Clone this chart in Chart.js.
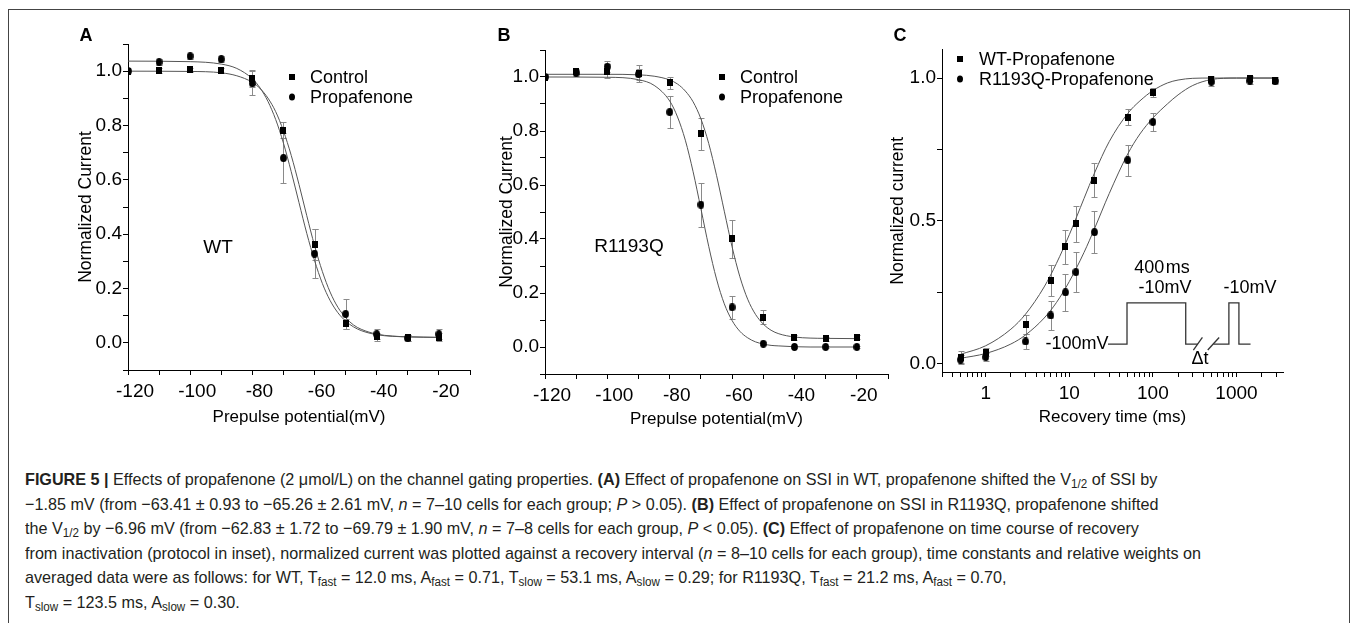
<!DOCTYPE html>
<html>
<head>
<meta charset="utf-8">
<script src="https://cdn.jsdelivr.net/npm/chart.js@4.4.1/dist/chart.umd.min.js"></script>
<style>
  html, body { margin: 0; padding: 0; background: #fff; }
  body { width: 1357px; height: 623px; position: relative; overflow: hidden;
         font-family: 'Liberation Sans', Arial, sans-serif; color: #000; }
  canvas { position: absolute; top: 0; }
  #frame { position: absolute; left: 8px; top: 9px; width: 1340px; height: 700px;
           border: 1px solid #444; border-bottom: none; }
  .c { position: absolute; transform: translate(-50%, -50%); white-space: nowrap; font-size: 18px; line-height: 1; }
  .l { position: absolute; transform: translate(0, -50%); white-space: nowrap; font-size: 18px; line-height: 1; }
  .panel { font-weight: bold; font-size: 18px; }
  .sq { position: absolute; width: 6px; height: 6px; background: #000; transform: translate(-50%, -50%); }
  .dot { position: absolute; width: 6px; height: 7px; border-radius: 50%; background: #000; transform: translate(-50%, -50%); }
  #caption { position: absolute; left: 25px; top: 468px; font-size: 17px; line-height: 24.5px;
             color: #231f20; white-space: nowrap; transform-origin: left top; }
  #caption sub { font-size: 0.72em; vertical-align: -0.28em; line-height: 0; }
</style>
</head>
<body>
<div id="frame"></div>
<canvas id="chartA" width="480" height="440" style="left:0px"></canvas>
<canvas id="chartB" width="480" height="440" style="left:420px"></canvas>
<canvas id="chartC" width="517" height="440" style="left:840px"></canvas>

<!-- panel letters -->
<div class="c panel" style="left:86px; top:35px">A</div>
<div class="c panel" style="left:504px; top:35px">B</div>
<div class="c panel" style="left:900px; top:35px">C</div>

<!-- legends -->
<div class="sq" style="left:292px; top:77px"></div><div class="l" style="left:310px; top:77px">Control</div>
<div class="dot" style="left:292px; top:97px"></div><div class="l" style="left:310px; top:97px">Propafenone</div>
<div class="sq" style="left:722px; top:77px"></div><div class="l" style="left:740px; top:77px">Control</div>
<div class="dot" style="left:722px; top:97px"></div><div class="l" style="left:740px; top:97px">Propafenone</div>
<div class="sq" style="left:960px; top:59px"></div><div class="l" style="left:979px; top:59px">WT-Propafenone</div>
<div class="dot" style="left:960px; top:79px"></div><div class="l" style="left:979px; top:79px">R1193Q-Propafenone</div>

<div class="c" style="left:218px; top:246px; font-size:19px">WT</div>
<div class="c" style="left:629px; top:245px; font-size:19px">R1193Q</div>

<!-- protocol inset labels -->
<div class="c" style="left:1162px; top:267px">400&#8202;ms</div>
<div class="c" style="left:1165px; top:287px">-10mV</div>
<div class="c" style="left:1250px; top:287px">-10mV</div>
<div class="c" style="left:1077px; top:343px">-100mV</div>
<div class="c" style="left:1200px; top:358px">&Delta;t</div>

<div id="caption">
  <div><span id="capLine1"><b>FIGURE 5 |</b> Effects of propafenone (2 &mu;mol/L) on the channel gating properties. <b>(A)</b> Effect of propafenone on SSI in WT, propafenone shifted the V<sub>1/2</sub> of SSI by</span></div>
  <div><span>&minus;1.85 mV (from &minus;63.41 &plusmn; 0.93 to &minus;65.26 &plusmn; 2.61 mV, <i>n</i> = 7&ndash;10 cells for each group; <i>P</i> &gt; 0.05). <b>(B)</b> Effect of propafenone on SSI in R1193Q, propafenone shifted</span></div>
  <div><span>the V<sub>1/2</sub> by &minus;6.96 mV (from &minus;62.83 &plusmn; 1.72 to &minus;69.79 &plusmn; 1.90 mV, <i>n</i> = 7&ndash;8 cells for each group, <i>P</i> &lt; 0.05). <b>(C)</b> Effect of propafenone on time course of recovery</span></div>
  <div><span id="capLine4">from inactivation (protocol in inset), normalized current was plotted against a recovery interval (<i>n</i> = 8&ndash;10 cells for each group), time constants and relative weights on</span></div>
  <div><span>averaged data were as follows: for WT, T<sub>fast</sub> = 12.0 ms, A<sub>fast</sub> = 0.71, T<sub>slow</sub> = 53.1 ms, A<sub>slow</sub> = 0.29; for R1193Q, T<sub>fast</sub> = 21.2 ms, A<sub>fast</sub> = 0.70,</span></div>
  <div><span>T<sub>slow</sub> = 123.5 ms, A<sub>slow</sub> = 0.30.</span></div>
</div>

<script>
// ---- data ----
// A / B: steady-state inactivation, prepulse potential (mV)
const ssiVoltages = [-120, -110, -100, -90, -80, -70, -60, -50, -40, -30, -20];

const wtControl      = [1.0, 1.003, 1.005, 1.003, 0.973, 0.783, 0.362, 0.070, 0.023, 0.018, 0.021];
const wtControlErr   = [0, 0.008, 0.008, 0.008, 0.030, 0.030, 0.056, 0.018, 0.015, 0.010, 0.016];
const wtPropa        = [1.0, 1.033, 1.055, 1.044, 0.955, 0.680, 0.328, 0.106, 0.032, 0.017, 0.032];
const wtPropaErr     = [0, 0.010, 0.010, 0.010, 0.044, 0.092, 0.090, 0.055, 0.018, 0.010, 0.018];

const r1193qControl    = [1.0, 1.020, 1.022, 1.012, 0.979, 0.790, 0.401, 0.111, 0.035, 0.030, 0.036];
const r1193qControlErr = [0, 0.010, 0.025, 0.032, 0.022, 0.060, 0.071, 0.025, 0.008, 0.006, 0.008];
const r1193qPropa      = [1.0, 1.015, 1.038, 1.010, 0.870, 0.527, 0.147, 0.012, 0.0, 0.0, 0.0];
const r1193qPropaErr   = [0, 0.012, 0.020, 0.020, 0.060, 0.082, 0.043, 0.006, 0.004, 0.004, 0.004];

// fitted Boltzmann curves, traced at these voltages
const fitVoltages = [-120, -100, -90, -85, -80, -77.5, -75, -72.5, -70, -67.5, -65, -62.5,
                     -60, -57.5, -55, -52.5, -50, -47.5, -45, -40, -35, -30, -20];
const wtControlFit = [1.0, 0.999, 0.994, 0.983, 0.959, 0.936, 0.901, 0.851, 0.780, 0.690, 0.583, 0.468,
                      0.358, 0.263, 0.187, 0.131, 0.093, 0.066, 0.050, 0.032, 0.025, 0.022, 0.020];
const wtPropaFit   = [1.037, 1.035, 1.026, 1.010, 0.972, 0.938, 0.889, 0.822, 0.735, 0.630, 0.516, 0.403,
                      0.303, 0.219, 0.156, 0.111, 0.080, 0.059, 0.045, 0.030, 0.024, 0.022, 0.020];
const r1193qControlFit = [1.010, 1.010, 1.008, 1.003, 0.989, 0.974, 0.948, 0.908, 0.845, 0.754, 0.636, 0.503,
                          0.371, 0.260, 0.177, 0.121, 0.085, 0.062, 0.049, 0.037, 0.033, 0.032, 0.031];
const r1193qPropaFit   = [1.0, 0.999, 0.990, 0.969, 0.911, 0.852, 0.766, 0.649, 0.512, 0.373, 0.252, 0.160,
                          0.098, 0.058, 0.034, 0.019, 0.011, 0.006, 0.004, 0.001, 0.0, 0.0, 0.0];

// C: recovery from inactivation, recovery time (ms)
const recoveryTimes     = [0.5, 1, 3, 6, 9, 12, 20, 50, 100, 500, 1450, 2900];
const wtRecovery        = [0.022, 0.040, 0.136, 0.290, 0.408, 0.490, 0.642, 0.862, 0.950, 0.996, 0.998, 0.993];
const wtRecoveryErr     = [0.020, 0.015, 0.032, 0.055, 0.060, 0.063, 0.060, 0.028, 0.015, 0.012, 0.010, 0.010];
const r1193qRecovery    = [0.013, 0.022, 0.077, 0.168, 0.249, 0.320, 0.460, 0.712, 0.846, 0.987, 0.990, 0.990];
const r1193qRecoveryErr = [0.015, 0.015, 0.026, 0.050, 0.066, 0.070, 0.074, 0.055, 0.033, 0.015, 0.012, 0.012];

const recoveryFitTimes = [0.5, 1, 2, 3, 5, 7, 10, 15, 20, 30, 50, 70, 100, 150, 200, 300, 500, 700, 1000, 2900];
const wtRecoveryFit     = [0.032, 0.062, 0.120, 0.173, 0.268, 0.350, 0.451, 0.578, 0.667, 0.777, 0.876, 0.920,
                           0.956, 0.983, 0.993, 0.999, 1.0, 1.0, 1.0, 1.0];
const r1193qRecoveryFit = [0.018, 0.035, 0.068, 0.100, 0.159, 0.213, 0.287, 0.389, 0.472, 0.595, 0.734, 0.804,
                           0.860, 0.910, 0.941, 0.974, 0.995, 0.999, 1.0, 1.0];

// voltage protocol inset in C, in the panel's own units (ms, normalized)
const protocolX1 = [29, 49, 49, 247, 247, 345];
const protocolX2 = [530, 811, 811, 1069, 1069, 1472];
const protocolY  = [0.068, 0.068, 0.212, 0.212, 0.068, 0.068];
const breakX1 = [305, 391];
const breakX2 = [453, 620];
const breakY  = [0.047, 0.091];

// tick labels
const ssiTickLabels = [-120, -100, -80, -60, -40, -20];
const recoveryTickLabels = [1, 10, 100, 1000];

// ---- helpers ----
const FONT = "'Liberation Sans', Arial, sans-serif";
const TICK_SIZE = 19;
const pts = (xs, ys) => xs.map((x, i) => ({ x: x, y: ys[i] }));

function markerCanvas(shape) {
  const c = document.createElement('canvas');
  const g = c.getContext('2d');
  if (shape === 'circle') {
    c.width = 7; c.height = 8;
    g.fillStyle = '#000';
    g.beginPath();
    g.ellipse(3.5, 4, 3.4, 4, 0, 0, Math.PI * 2);
    g.fill();
  } else {
    c.width = 6; c.height = 7;
    g.fillStyle = '#000';
    g.fillRect(0, 0, 6, 7);
  }
  return c;
}
const squareMark = markerCanvas('square');
const circleMark = markerCanvas('circle');

const markers = (xs, ys, errs, mark) => ({
  data: pts(xs, ys), errors: errs, showLine: false,
  pointStyle: mark, pointRadius: 4, borderWidth: 0,
});
const curve = (xs, ys) => ({
  data: pts(xs, ys), borderColor: '#555', borderWidth: 1,
  pointRadius: 0, cubicInterpolationMode: 'monotone', fill: false,
});
const protocolLine = (xs, ys) => ({
  data: pts(xs, ys), borderColor: '#333', borderWidth: 1.3, pointRadius: 0, tension: 0, fill: false,
});

// error bars drawn behind the markers
const errorBars = {
  id: 'errorBars',
  beforeDatasetsDraw(chart) {
    const { ctx } = chart;
    const xs = chart.scales.x, ys = chart.scales.y;
    ctx.save();
    ctx.strokeStyle = '#8a8a8a';
    ctx.lineWidth = 1;
    chart.data.datasets.forEach(ds => {
      if (!ds.errors) return;
      ds.data.forEach((p, j) => {
        const e = ds.errors[j];
        if (!e) return;
        const x = Math.round(xs.getPixelForValue(p.x)) + 0.5;
        const y1 = Math.round(ys.getPixelForValue(p.y + e)) + 0.5;
        const y2 = Math.round(ys.getPixelForValue(p.y - e)) + 0.5;
        ctx.beginPath();
        ctx.moveTo(x, y1); ctx.lineTo(x, y2);
        ctx.moveTo(x - 3, y1); ctx.lineTo(x + 3, y1);
        ctx.moveTo(x - 3, y2); ctx.lineTo(x + 3, y2);
        ctx.stroke();
      });
    });
    ctx.restore();
  }
};

const gridOpts = { drawOnChartArea: false, drawTicks: true, tickLength: 5, color: '#000', tickColor: '#000' };
const borderOpts = { display: true, color: '#000', width: 1 };

function ssiXScale(titlePad) {
  return {
    type: 'linear', min: -120, max: -10,
    afterFit: s => { s.height = 440 - (titlePad.areaBottom); },
    grid: gridOpts, border: borderOpts,
    ticks: {
      stepSize: 10, autoSkip: false, maxRotation: 0, padding: 5, labelOffset: 7,
      color: '#000', font: { family: FONT, size: TICK_SIZE },
      callback: v => ssiTickLabels.includes(Math.round(v)) ? String(Math.round(v)) : '',
    },
    title: { display: true, text: 'Prepulse potential(mV)', color: '#000',
             font: { family: FONT, size: 17 }, padding: { top: 0, bottom: titlePad.bottom } },
  };
}

function normYScale(width, titleTop, min, step, labelEvery) {
  return {
    type: 'linear', min: min, max: 1.1,
    afterFit: s => { s.width = width; },
    grid: gridOpts, border: borderOpts,
    ticks: {
      stepSize: step, autoSkip: false, padding: 1, includeBounds: false,
      color: '#000', font: { family: FONT, size: TICK_SIZE },
      callback: v => {
        const r = Math.round(v / labelEvery);
        return (Math.abs(v - r * labelEvery) < 1e-6 && v > -0.001 && v < 1.001) ? v.toFixed(1) : '';
      },
    },
    title: { display: true, color: '#000', font: { family: FONT, size: 17.5 },
             padding: { top: titleTop, bottom: 0 } },
  };
}

function makeChart(id, datasets, scales, padding) {
  return new Chart(document.getElementById(id), {
    type: 'line',
    data: { datasets: datasets },
    options: {
      responsive: false, animation: false, devicePixelRatio: 1,
      layout: { padding: padding },
      plugins: { legend: { display: false }, tooltip: { enabled: false } },
      scales: scales,
    },
    plugins: [errorBars],
  });
}

// ---- panel A ----
const yA = normYScale(128, 75.5, -0.1, 0.1, 0.2);
yA.title.text = 'Normalized Current';
makeChart('chartA', [
  markers(ssiVoltages, wtControl, wtControlErr, squareMark),
  markers(ssiVoltages, wtPropa, wtPropaErr, circleMark),
  curve(fitVoltages, wtControlFit),
  curve(fitVoltages, wtPropaFit),
], { x: ssiXScale({ areaBottom: 370, bottom: 12.8 }), y: yA },
   { left: 0, top: 44, right: 10, bottom: 0 });

// ---- panel B ----
const yB = normYScale(125, 76.5, -0.1, 0.1, 0.2);
yB.title.text = 'Normalized Current';
makeChart('chartB', [
  markers(ssiVoltages, r1193qControl, r1193qControlErr, squareMark),
  markers(ssiVoltages, r1193qPropa, r1193qPropaErr, circleMark),
  curve(fitVoltages, r1193qControlFit),
  curve(fitVoltages, r1193qPropaFit),
], { x: ssiXScale({ areaBottom: 374, bottom: 10.8 }), y: yB },
   { left: 0, top: 50, right: 12, bottom: 0 });

// ---- panel C ----
const yC = normYScale(102, 47.5, -0.03, 0.25, 0.5);
yC.title.text = 'Normalized current';
const xC = {
  type: 'logarithmic', min: 0.3, max: 3600,
  afterFit: s => { s.height = 68; },
  afterBuildTicks: s => {
    // keep only 1..9 x 10^n
    s.ticks = s.ticks.filter(t => {
      const e = Math.floor(Math.log10(t.value) + 1e-9);
      const m = t.value / Math.pow(10, e);
      return Math.abs(m - Math.round(m)) < 1e-6;
    });
  },
  grid: gridOpts, border: borderOpts,
  ticks: {
    autoSkip: false, maxRotation: 0, padding: 5,
    color: '#000', font: { family: FONT, size: TICK_SIZE },
    callback: v => recoveryTickLabels.find(t => Math.abs(t - v) < 1e-6 * t) !== undefined ? String(Math.round(v)) : '',
  },
  title: { display: true, text: 'Recovery time (ms)', color: '#000',
           font: { family: FONT, size: 17 }, padding: { top: 0, bottom: 12.8 } },
};
makeChart('chartC', [
  markers(recoveryTimes, wtRecovery, wtRecoveryErr, squareMark),
  markers(recoveryTimes, r1193qRecovery, r1193qRecoveryErr, circleMark),
  curve(recoveryFitTimes, wtRecoveryFit),
  curve(recoveryFitTimes, r1193qRecoveryFit),
  protocolLine(protocolX1, protocolY),
  protocolLine(protocolX2, protocolY),
  protocolLine(breakX1, breakY),
  protocolLine(breakX2, breakY),
], { x: xC, y: yC }, { left: 0, top: 49.5, right: 74, bottom: 0 });

// caption is set in a narrow face in the original: squeeze it to the same line width
const cap = document.getElementById('caption');
const w4 = document.getElementById('capLine4').getBoundingClientRect().width;
cap.style.transform = 'scaleX(' + (1176 / w4) + ')';
</script>
</body>
</html>
